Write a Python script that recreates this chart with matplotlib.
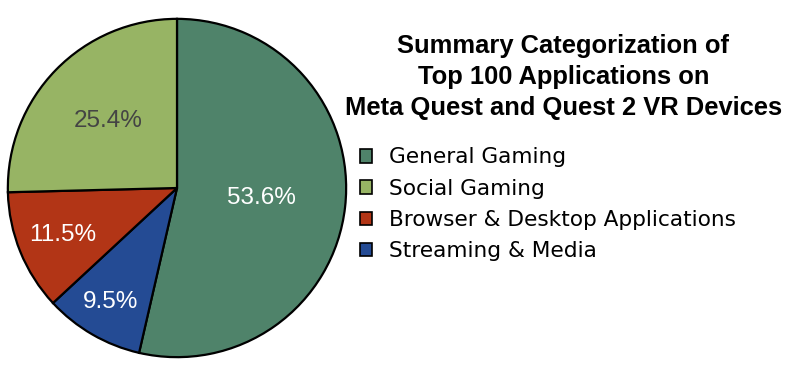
import numpy as np
import matplotlib.pyplot as plt
from matplotlib.patches import Patch

# data (clockwise from 12 o'clock)
categories = ["General Gaming", "Streaming & Media", "Browser & Desktop Applications", "Social Gaming"]
shares = [53.6, 9.5, 11.5, 25.4]
colors = ["#4f836a", "#244b94", "#b23516", "#97b464"]
label_colors = ["white", "white", "white", "#444444"]
label_dist = [0.5, 0.78, 0.73, 0.57]

legend_order = ["General Gaming", "Social Gaming", "Browser & Desktop Applications", "Streaming & Media"]

fig = plt.figure(figsize=(7.89, 3.75), dpi=100)
ax = fig.add_axes([7 / 789, 17 / 375, 340 / 789, 340 / 375])

wedges, texts, autotexts = ax.pie(
    shares, colors=colors, startangle=90, counterclock=False,
    autopct=lambda p: f"{p:.1f}%", pctdistance=0.5,
    wedgeprops=dict(edgecolor="black", linewidth=1.6),
    textprops=dict(fontsize=17.5, family="Liberation Sans"))
ax.set_xlim(-1.005, 1.005)
ax.set_ylim(-1.005, 1.005)
ax.set_aspect("equal")

for w, t, d, c in zip(wedges, autotexts, label_dist, label_colors):
    ang = np.deg2rad((w.theta1 + w.theta2) / 2)
    t.set_position((d * np.cos(ang), d * np.sin(ang)))
    t.set_color(c)

fig.text(0.714, 0.91, "Summary Categorization of\nTop 100 Applications on\nMeta Quest and Quest 2 VR Devices",
         ha="center", va="top", fontsize=18.4, fontweight="bold", family="Liberation Sans", linespacing=1.38)

handles = [Patch(facecolor=colors[categories.index(n)], edgecolor="black", linewidth=1.2) for n in legend_order]
fig.legend(handles, legend_order, loc="upper left", bbox_to_anchor=(0.445, 0.63),
           frameon=False, fontsize=15.6, handlelength=0.58, handleheight=0.58,
           handletextpad=0.75, labelspacing=0.52, borderaxespad=0)

fig.savefig("out.png", dpi=100)
